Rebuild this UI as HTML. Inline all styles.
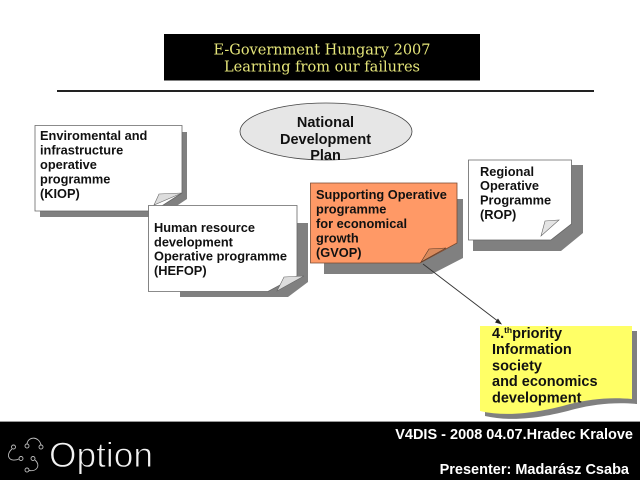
<!DOCTYPE html>
<html><head><meta charset="utf-8"><style>
html,body{margin:0;padding:0;background:#fff;width:640px;height:480px;overflow:hidden}
svg{display:block}
text{font-family:"Liberation Sans",sans-serif;font-weight:bold;fill:#111}
.n{font-size:12.8px}
.y{font-size:14.5px}
.t{font-family:"DejaVu Serif","Liberation Serif",serif;font-weight:normal;font-size:15px;fill:#e6e67a}
.w{fill:#fff;font-size:14.500px}
</style></head><body>
<svg width="640" height="480" viewBox="0 0 640 480" xmlns="http://www.w3.org/2000/svg">
<rect width="640" height="480" fill="#fff"/>
<rect x="164" y="34" width="316" height="46.500" fill="#000"/>
<text class="t" x="322" y="54.500" text-anchor="middle" textLength="217" lengthAdjust="spacingAndGlyphs">E-Government Hungary 2007</text>
<text class="t" x="322" y="71.500" text-anchor="middle" textLength="196" lengthAdjust="spacingAndGlyphs">Learning from our failures</text>
<rect x="57" y="90" width="537" height="2" fill="#222"/>

<ellipse cx="326" cy="131.500" rx="86" ry="28.500" fill="#e6e6e6" stroke="#444" stroke-width="0.800"/>
<text x="325.500" y="127" text-anchor="middle" style="font-size:14.500px">National</text>
<text x="325.500" y="144" text-anchor="middle" style="font-size:14.500px">Development</text>
<text x="325.500" y="160" text-anchor="middle" style="font-size:14.500px">Plan</text>

<!-- KIOP -->
<polygon points="40,132 187,132 187,199 160,217 40,217" fill="#808080"/>
<polygon points="35,125.500 182,125.500 182,193 154,211 35,211" fill="#fff" stroke="#666" stroke-width="0.800"/>
<polygon points="154,205 159,194 182,193" fill="#ddd" stroke="#666" stroke-width="0.600"/>
<text class="n" x="40" y="140">Enviromental and</text>
<text class="n" x="40" y="154.500">infrastructure</text>
<text class="n" x="40" y="169">operative</text>
<text class="n" x="40" y="183.500">programme</text>
<text class="n" x="40" y="198">(KIOP)</text>

<!-- HEFOP -->
<polygon points="180,223 308,223 308,282 288,297 180,297" fill="#808080"/>
<polygon points="148.500,205.500 297,205.500 297,276 268,291.500 148.500,291.500" fill="#fff" stroke="#666" stroke-width="0.800"/>
<polygon points="277,291 284,277 304,276" fill="#ddd" stroke="#666" stroke-width="0.600"/>
<text class="n" x="154" y="232">Human resource</text>
<text class="n" x="154" y="246.500">development</text>
<text class="n" x="154" y="260.500">Operative programme</text>
<text class="n" x="154" y="275">(HEFOP)</text>

<!-- GVOP -->
<polygon points="324,199 463,199 463,258 432,274 324,274" fill="#808080"/>
<polygon points="310.500,183 457,183 457,243 420,263 310.500,263" fill="#ff9966" stroke="#7a4a30" stroke-width="0.800"/>
<polygon points="421,262 429,249 446,248" fill="#d98a5c" stroke="#5a3a28" stroke-width="0.600"/>
<text class="n" x="316" y="199">Supporting Operative</text>
<text class="n" x="316" y="213.500">programme</text>
<text class="n" x="316" y="228">for economical</text>
<text class="n" x="316" y="242.500">growth</text>
<text class="n" x="316" y="257">(GVOP)</text>

<!-- ROP -->
<polygon points="473,165 583,165 583,233 561,251 473,251" fill="#808080"/>
<polygon points="468.500,160 571.500,160 571.500,224 551,240 468.500,240" fill="#fff" stroke="#666" stroke-width="0.800"/>
<polygon points="541,236 545,221 559,220" fill="#e4e4e4" stroke="#666" stroke-width="0.600"/>
<text class="n" x="480" y="176">Regional</text>
<text class="n" x="480" y="190">Operative</text>
<text class="n" x="480" y="204.500">Programme</text>
<text class="n" x="480" y="219">(ROP)</text>

<!-- connector -->
<line x1="423" y1="264" x2="499" y2="322" stroke="#333" stroke-width="0.900"/>
<polygon points="502,324.500 495,322.500 498,318.500" fill="#222"/>

<!-- yellow note -->
<path d="M485,331 H637 V404 C615,402 595,404 575,409 C550,416 515,423 485,416 Z" fill="#808080"/>
<path d="M480,326 H632 V399 C610,397 590,399 570,404 C545,411 510,418 480,411 Z" fill="#ffff66"/>
<text class="y" x="492" y="338">4.<tspan font-size="8.500" dy="-5">th</tspan><tspan dy="5">priority</tspan></text>
<text class="y" x="492" y="354">Information</text>
<text class="y" x="492" y="370.500">society</text>
<text class="y" x="492" y="386">and economics</text>
<text class="y" x="492" y="402.500">development</text>

<!-- footer -->
<rect x="0" y="421" width="640" height="1" fill="#999"/>
<rect x="0" y="422" width="640" height="58" fill="#000"/>
<text class="w" x="633" y="439" text-anchor="end">V4DIS - 2008 04.07.Hradec Kralove</text>
<text class="w" x="629" y="474" text-anchor="end">Presenter: Madarász Csaba</text>

<g fill="none" stroke="#bbb" stroke-width="0.900">
<circle cx="13.500" cy="447" r="2"/>
<circle cx="27" cy="446" r="2"/>
<circle cx="41" cy="447" r="2"/>
<circle cx="21" cy="458.500" r="2"/>
<circle cx="33" cy="458.500" r="2"/>
<circle cx="27" cy="470" r="2"/>
<path d="M12,449 C5,455 9,463 19,459"/>
<path d="M27,444 C28,436 39,436 41,445"/>
<path d="M35,460 C41,465 37,472 29,470.500"/>
</g>
<text x="49" y="467" style="font-weight:normal;font-size:35px;fill:#f2f2f2;stroke:#000;stroke-width:0.900px" textLength="104" lengthAdjust="spacingAndGlyphs">Option</text>
</svg>
</body></html>
